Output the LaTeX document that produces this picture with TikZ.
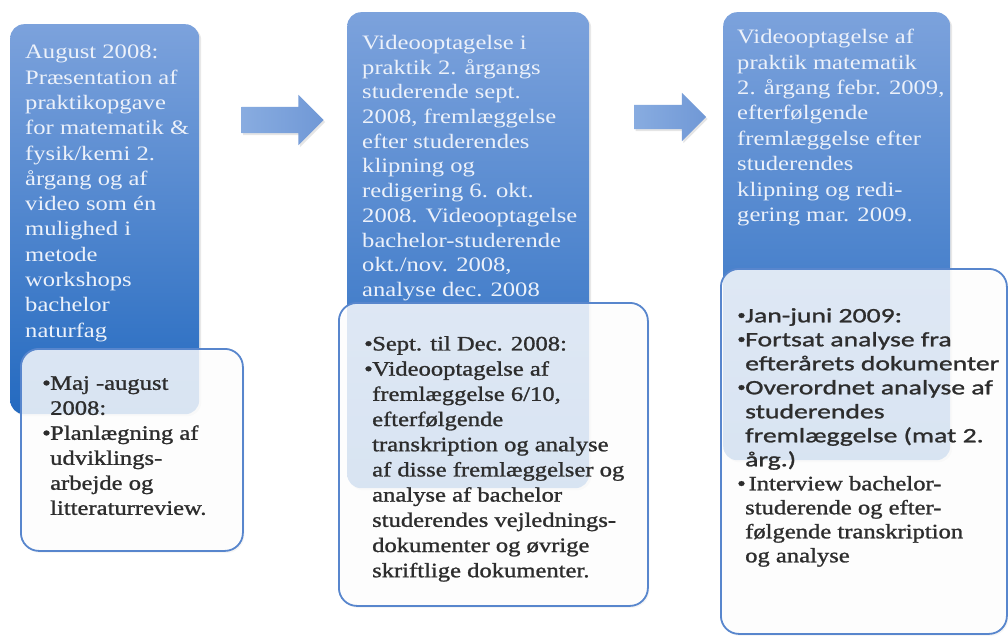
\documentclass[tikz,border=0pt]{standalone}
\usepackage{fontspec}
\setmainfont[FakeStretch=1.2]{Liberation Serif}
\newfontfamily\darkserif[FakeStretch=1.2,FakeBold=1.2]{Liberation Serif}
\newfontfamily\sansB[FakeStretch=1.35,FakeBold=1.2]{Carlito}
\usetikzlibrary{shapes.arrows,shadows}

\definecolor{bluetop}{RGB}{124,162,220}
\definecolor{bluebot}{RGB}{36,106,192}
\definecolor{edgeblue}{RGB}{88,134,205}
\definecolor{txtw}{RGB}{236,241,250}
\definecolor{txtd}{RGB}{45,45,45}
\definecolor{arrowa}{RGB}{136,172,224}
\definecolor{arrowb}{RGB}{112,152,214}

\newcommand\bulA{\makebox[8pt][l]{•}}
\newcommand\indA{\hspace*{8pt}}

\tikzset{
  bluebox/.style={rectangle, rounded corners=14pt, top color=bluetop, bottom color=bluebot,
    draw=none, anchor=north west, inner sep=0pt,
    drop shadow={opacity=0.18, shadow xshift=2pt, shadow yshift=-2pt}},
  whitebox/.style={rectangle, rounded corners=18pt, fill=white, fill opacity=0.82,
    draw=edgeblue, draw opacity=1, line width=1.8pt, anchor=north west, inner sep=0pt,
    drop shadow={opacity=0.08, shadow xshift=1.5pt, shadow yshift=-2pt}},
  bluetext/.style={anchor=north west, inner sep=0pt, align=left, text=txtw,
    font=\fontsize{20.5}{25.3}\selectfont},
  darktext/.style={anchor=north west, inner sep=0pt, align=left, text=txtd,
    font=\darkserif\fontsize{20.5}{25}\selectfont},
  flowarrow/.style={single arrow, single arrow head extend=12pt, single arrow head indent=0pt,
    left color=arrowa, right color=arrowb, draw=none, inner xsep=0pt, inner ysep=13pt,
    drop shadow={opacity=0.2, shadow xshift=1.5pt, shadow yshift=-2pt}}
}

\begin{document}
\begin{tikzpicture}[x=1pt, y=-1pt]
\useasboundingbox (0,0) rectangle (1008,635);
\fill[white] (0,0) rectangle (1008,635);

% blue boxes
\node[bluebox, minimum width=189pt, minimum height=390pt] (b1) at (10,24) {};
\node[bluebox, minimum width=242pt, minimum height=476pt] (b2) at (347,12) {};
\node[bluebox, minimum width=227pt, minimum height=448pt] (b3) at (723,12) {};

% blue box texts
\node[bluetext] (t1) at (25,45) {August 2008:\\ Præsentation af\\ praktikopgave\\ for matematik \&\\ fysik/kemi 2.\\ årgang og af\\ video som én\\ mulighed i\\ metode\\ workshops\\ bachelor\\ naturfag};
\node[bluetext, font=\fontsize{20.5}{24.7}\selectfont] (t2) at (362,35) {Videooptagelse i\\ praktik 2. årgangs\\ studerende sept.\\ 2008, fremlæggelse\\ efter studerendes\\ klipning og\\ redigering 6. okt.\\ 2008. Videooptagelse\\ bachelor-studerende\\ okt./nov. 2008,\\ analyse dec. 2008};
\node[bluetext, font=\fontsize{20.5}{25.4}\selectfont] (t3) at (737,29) {Videooptagelse af\\ praktik matematik\\ 2. årgang febr. 2009,\\ efterfølgende\\ fremlæggelse efter\\ studerendes\\ klipning og redi-\\ gering mar. 2009.};

% white boxes
\node[whitebox, minimum width=222pt, minimum height=202pt] (w1) at (20,348) {};
\node[whitebox, minimum width=309pt, minimum height=303pt] (w2) at (338,302) {};
\node[whitebox, minimum width=286pt, minimum height=365pt] (w3) at (720,268) {};

% white box texts
\node[darktext] (d1) at (42,376) {\bulA Maj -august\\ \indA 2008:\\ \bulA Planlægning af\\ \indA udviklings-\\ \indA arbejde og\\ \indA litteraturreview.};
\node[darktext, font=\darkserif\fontsize{20.5}{25.2}\selectfont] (d2) at (364,336) {\bulA Sept. til Dec. 2008:\\ \bulA Videooptagelse af\\ \indA fremlæggelse 6/10,\\ \indA efterfølgende\\ \indA transkription og analyse\\ \indA af disse fremlæggelser og\\ \indA analyse af bachelor\\ \indA studerendes vejlednings-\\ \indA dokumenter og øvrige\\ \indA skriftlige dokumenter.};
\node[darktext, font=\darkserif\fontsize{20.5}{24}\selectfont] (d3) at (737,308) {\bulA{\sansB Jan-juni 2009:}\\ \bulA{\sansB Fortsat analyse fra}\\ \indA{\sansB efterårets dokumenter}\\ \bulA{\sansB Overordnet analyse af}\\ \indA{\sansB studerendes}\\ \indA{\sansB fremlæggelse (mat 2.}\\ \indA{\sansB årg.)}\\ \bulA\,Interview bachelor-\\ \indA studerende og efter-\\ \indA følgende transkription\\ \indA og analyse};

% arrows
\node[flowarrow, minimum height=82pt] (a1) at (276,120) {};
\node[flowarrow, minimum height=72pt, inner ysep=12pt] (a2) at (664,117) {};
\end{tikzpicture}
\end{document}
